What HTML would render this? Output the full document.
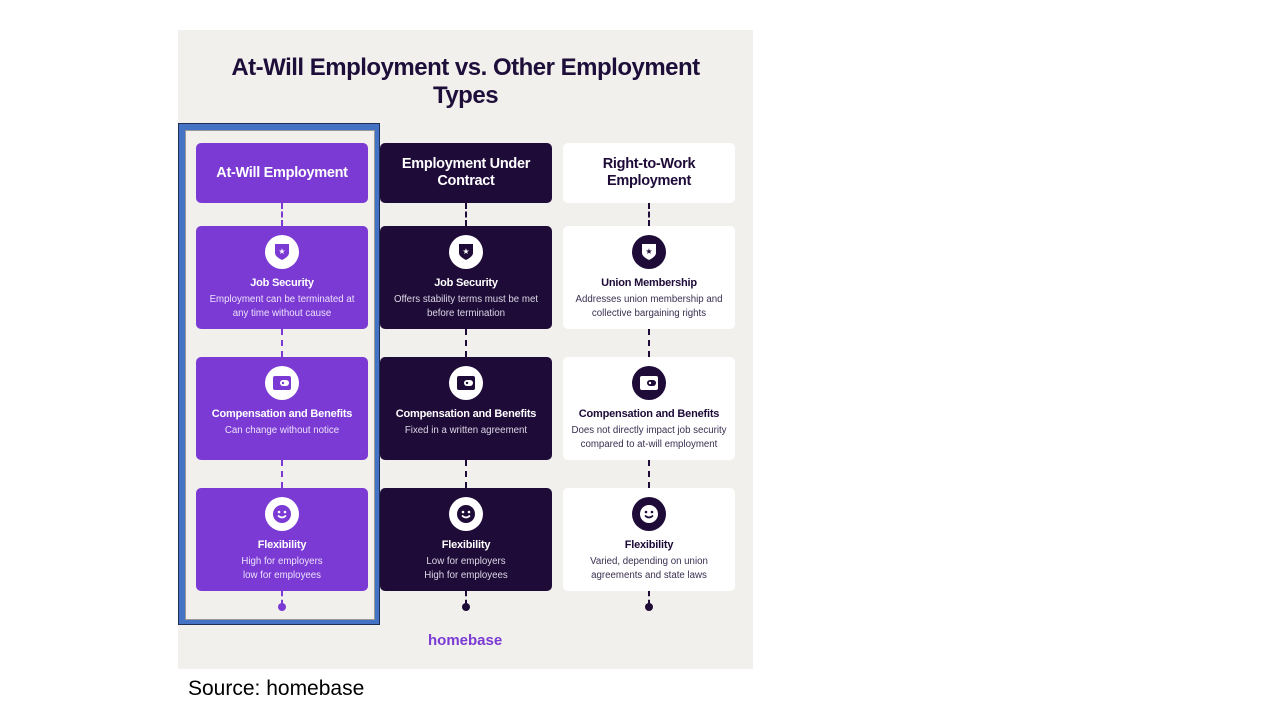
<!DOCTYPE html>
<html><head><meta charset="utf-8"><style>
body{margin:0;width:1280px;height:720px;background:#fff;position:relative;font-family:"Liberation Sans",sans-serif;overflow:hidden}
.panel{position:absolute;left:178px;top:30px;width:575px;height:639px;background:#f1f0ec}
.title{position:absolute;left:178px;top:54px;width:575px;text-align:center;font-weight:bold;font-size:24px;line-height:28px;color:#1e0e3a;letter-spacing:-0.5px}
.frame{position:absolute;left:178px;top:123px;width:202px;height:502px;box-sizing:border-box;border:1px solid #1f2f55;background:#4472c4}
.frame .in{position:absolute;left:6px;top:6px;right:4px;bottom:4px;background:#f1f0ec;border:1px solid #999}
.box{position:absolute;width:172px;border-radius:5px;box-sizing:border-box;text-align:center}
.p{background:#7b3ad4;color:#fff}
.d{background:#1e0b38;color:#fff}
.w{background:#fff;color:#1e0b38}
.hd{height:60px;display:flex;align-items:center;justify-content:center;font-weight:bold;font-size:14.5px;line-height:17px;letter-spacing:-0.3px}
.card{height:103px}
.ic{position:absolute;left:69px;top:9px;width:34px;height:34px;border-radius:50%;display:flex;align-items:center;justify-content:center}
.p .ic,.d .ic{background:#fff}
.w .ic{background:#1e0b38}
.card h4{margin:0;position:absolute;top:51px;left:0;right:0;font-size:11px;font-weight:bold;letter-spacing:-0.2px}
.card p{margin:0;position:absolute;top:67px;left:0;right:0;font-size:9.7px;line-height:14px}
.p p{color:#ece2fb}.d p{color:#ddd8e6}.w p{color:#3a2f50}
.ln{position:absolute;width:0;border-left:2px dashed}
.dot{position:absolute;width:8px;height:8px;border-radius:50%}
.logo{position:absolute;left:428px;top:632px;font-weight:bold;font-size:15px;color:#7b3ad4}
.src{position:absolute;left:188px;top:677px;font-size:21px;color:#000}
</style></head><body>
<div class="panel"></div>
<div class="title">At-Will Employment vs. Other Employment<br>Types</div>
<div class="frame"><div class="in"></div></div>

<div class="ln" style="left:281px;top:203px;height:23px;border-color:#7b3ad4"></div>
<div class="ln" style="left:281px;top:329px;height:28px;border-color:#7b3ad4"></div>
<div class="ln" style="left:281px;top:460px;height:28px;border-color:#7b3ad4"></div>
<div class="ln" style="left:281px;top:591px;height:14px;border-color:#7b3ad4"></div>
<div class="dot" style="left:278px;top:603px;background:#7b3ad4"></div>
<div class="ln" style="left:465px;top:203px;height:23px;border-color:#1e0b38"></div>
<div class="ln" style="left:465px;top:329px;height:28px;border-color:#1e0b38"></div>
<div class="ln" style="left:465px;top:460px;height:28px;border-color:#1e0b38"></div>
<div class="ln" style="left:465px;top:591px;height:14px;border-color:#1e0b38"></div>
<div class="dot" style="left:462px;top:603px;background:#1e0b38"></div>
<div class="ln" style="left:648px;top:203px;height:23px;border-color:#1e0b38"></div>
<div class="ln" style="left:648px;top:329px;height:28px;border-color:#1e0b38"></div>
<div class="ln" style="left:648px;top:460px;height:28px;border-color:#1e0b38"></div>
<div class="ln" style="left:648px;top:591px;height:14px;border-color:#1e0b38"></div>
<div class="dot" style="left:645px;top:603px;background:#1e0b38"></div>

<div class="box p hd" style="left:196px;top:143px">At-Will Employment</div>
<div class="box d hd" style="left:380px;top:143px">Employment Under<br>Contract</div>
<div class="box w hd" style="left:563px;top:143px">Right-to-Work<br>Employment</div>

<div class="box p card" style="left:196px;top:226px"><div class="ic"><svg width="16" height="18" viewBox="0 0 16 18"><path d="M1 1h14v9c0 4-7 7-7 7s-7-3-7-7z" fill="#7b3ad4"/><text x="8" y="11" font-size="8" fill="#fff" text-anchor="middle">★</text></svg></div><h4>Job Security</h4><p>Employment can be terminated at<br>any time without cause</p></div>
<div class="box d card" style="left:380px;top:226px"><div class="ic"><svg width="16" height="18" viewBox="0 0 16 18"><path d="M1 1h14v9c0 4-7 7-7 7s-7-3-7-7z" fill="#1e0b38"/><text x="8" y="11" font-size="8" fill="#fff" text-anchor="middle">★</text></svg></div><h4>Job Security</h4><p>Offers stability terms must be met<br>before termination</p></div>
<div class="box w card" style="left:563px;top:226px"><div class="ic"><svg width="16" height="18" viewBox="0 0 16 18"><path d="M1 1h14v9c0 4-7 7-7 7s-7-3-7-7z" fill="#fff"/><text x="8" y="11" font-size="8" fill="#1e0b38" text-anchor="middle">★</text></svg></div><h4>Union Membership</h4><p>Addresses union membership and<br>collective bargaining rights</p></div>

<div class="box p card" style="left:196px;top:357px"><div class="ic"><svg width="18" height="14" viewBox="0 0 18 14"><rect x="0" y="0" width="18" height="14" rx="2" fill="#7b3ad4"/><rect x="7" y="4" width="9" height="6" rx="3" fill="#fff"/><circle cx="10" cy="7" r="1.2" fill="#7b3ad4"/></svg></div><h4>Compensation and Benefits</h4><p style="top:67px">Can change without notice</p></div>
<div class="box d card" style="left:380px;top:357px"><div class="ic"><svg width="18" height="14" viewBox="0 0 18 14"><rect x="0" y="0" width="18" height="14" rx="2" fill="#1e0b38"/><rect x="7" y="4" width="9" height="6" rx="3" fill="#fff"/><circle cx="10" cy="7" r="1.2" fill="#1e0b38"/></svg></div><h4>Compensation and Benefits</h4><p style="top:67px">Fixed in a written agreement</p></div>
<div class="box w card" style="left:563px;top:357px"><div class="ic"><svg width="18" height="14" viewBox="0 0 18 14"><rect x="0" y="0" width="18" height="14" rx="2" fill="#fff"/><rect x="7" y="4" width="9" height="6" rx="3" fill="#1e0b38"/><circle cx="10" cy="7" r="1.2" fill="#fff"/></svg></div><h4>Compensation and Benefits</h4><p style="top:67px">Does not directly impact job security<br>compared to at-will employment</p></div>

<div class="box p card" style="left:196px;top:488px"><div class="ic"><svg width="18" height="18" viewBox="0 0 18 18"><circle cx="9" cy="9" r="9" fill="#7b3ad4"/><circle cx="6" cy="7" r="1.3" fill="#fff"/><circle cx="12" cy="7" r="1.3" fill="#fff"/><path d="M5 10.5q4 4 8 0" stroke="#fff" stroke-width="1.6" fill="none"/></svg></div><h4>Flexibility</h4><p>High for employers<br>low for employees</p></div>
<div class="box d card" style="left:380px;top:488px"><div class="ic"><svg width="18" height="18" viewBox="0 0 18 18"><circle cx="9" cy="9" r="9" fill="#1e0b38"/><circle cx="6" cy="7" r="1.3" fill="#fff"/><circle cx="12" cy="7" r="1.3" fill="#fff"/><path d="M5 10.5q4 4 8 0" stroke="#fff" stroke-width="1.6" fill="none"/></svg></div><h4>Flexibility</h4><p>Low for employers<br>High for employees</p></div>
<div class="box w card" style="left:563px;top:488px"><div class="ic"><svg width="18" height="18" viewBox="0 0 18 18"><circle cx="9" cy="9" r="9" fill="#fff"/><circle cx="6" cy="7" r="1.3" fill="#1e0b38"/><circle cx="12" cy="7" r="1.3" fill="#1e0b38"/><path d="M5 10.5q4 4 8 0" stroke="#1e0b38" stroke-width="1.6" fill="none"/></svg></div><h4>Flexibility</h4><p>Varied, depending on union<br>agreements and state laws</p></div>

<div class="logo">homebase</div>
<div class="src">Source: homebase</div>
</body></html>
